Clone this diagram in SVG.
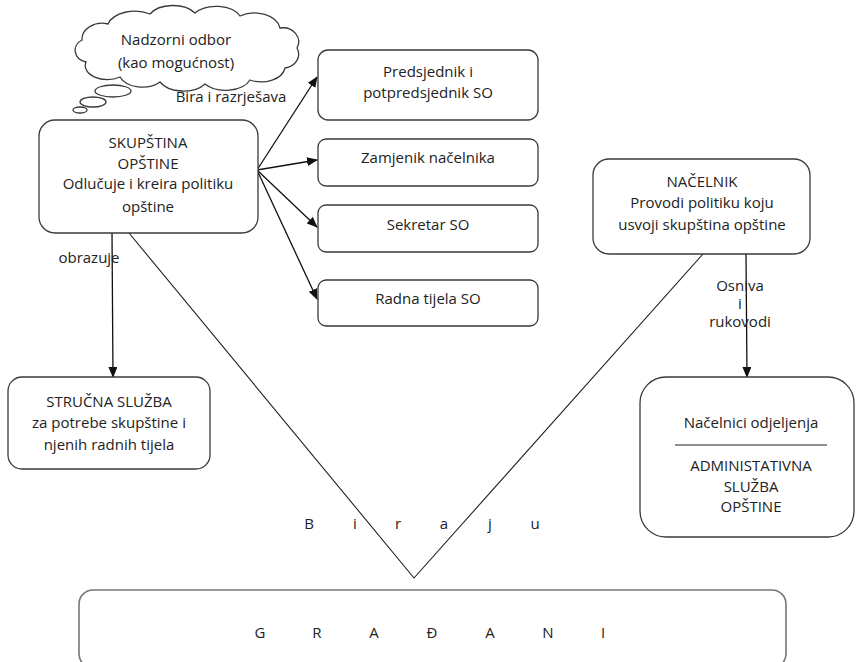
<svg xmlns="http://www.w3.org/2000/svg" width="856" height="662" viewBox="0 0 856 662">
  <style>
    .box { fill: #fff; stroke: #3a3a3a; stroke-width: 1.3; }
    .lbl { font-family: "Open Sans", "Liberation Sans", Arial, sans-serif; font-size: 15px; fill: #222; text-anchor: middle; }
    .wire { fill: none; stroke: #111; stroke-width: 1.3; }
    .plain { fill: none; stroke: #222; stroke-width: 1.1; }
  </style>
  <defs>
    <marker id="head" markerUnits="userSpaceOnUse" markerWidth="11" markerHeight="9" refX="10" refY="4.5" orient="auto">
      <path d="M0,0 L11,4.5 L0,9 z" fill="#111"/>
    </marker>
  </defs>

  <rect width="856" height="662" fill="#fff"/>

  <!-- connectors -->
  <g id="connectors">
    <line class="wire" x1="257" y1="170" x2="317" y2="77" marker-end="url(#head)"/>
    <line class="wire" x1="257" y1="170" x2="317" y2="160" marker-end="url(#head)"/>
    <line class="wire" x1="257" y1="170" x2="317" y2="227" marker-end="url(#head)"/>
    <line class="wire" x1="257" y1="170" x2="317" y2="299" marker-end="url(#head)"/>
    <line class="wire" x1="112" y1="233" x2="113" y2="377" marker-end="url(#head)"/>
    <line class="wire" x1="746" y1="254" x2="747" y2="377" marker-end="url(#head)"/>
    <polyline class="plain" points="129,233 414,578 703,254"/>
    <text class="lbl" x="231" y="102">Bira i razrješava</text>
    <text class="lbl" x="89" y="263">obrazuje</text>
    <text class="lbl" y="291"><tspan x="740">Osniva</tspan><tspan x="740" dy="18">i</tspan><tspan x="740" dy="18">rukovodi</tspan></text>
    <text class="lbl" x="309 355 398 444 490 535" y="529">Biraju</text>
  </g>

  <!-- thought cloud -->
  <g id="nadzorni-odbor">
    <path class="box" d="M86,62 A14,12 0 0 1 82,40 A20,16 0 0 1 108,24 A28,18 0 0 1 150,14 A26,16 0 0 1 195,13 A26,16 0 0 1 240,16 A26,18 0 0 1 280,28 A16,14 0 0 1 297,48 A16,14 0 0 1 285,68 A24,16 0 0 1 250,80 A26,16 0 0 1 205,84 A26,16 0 0 1 160,82 A24,16 0 0 1 120,77 A22,14 0 0 1 86,62 z"/>
    <ellipse class="box" cx="113" cy="91" rx="18" ry="6"/>
    <ellipse class="box" cx="93" cy="102" rx="13" ry="5"/>
    <ellipse class="box" cx="80" cy="110" rx="7" ry="3"/>
    <text class="lbl" x="176" y="45">Nadzorni odbor</text>
    <text class="lbl" x="176" y="68">(kao mogućnost)</text>
  </g>

  <g id="skupstina">
    <rect class="box" x="39" y="120" width="219" height="113" rx="16"/>
    <text class="lbl" x="148" y="148">SKUPŠTINA</text>
    <text class="lbl" x="148" y="169">OPŠTINE</text>
    <text class="lbl" x="148" y="189">Odlučuje i kreira politiku</text>
    <text class="lbl" x="148" y="212">opštine</text>
  </g>

  <g id="predsjednik">
    <rect class="box" x="318" y="50" width="220" height="70" rx="10"/>
    <text class="lbl" x="428" y="77">Predsjednik i</text>
    <text class="lbl" x="428" y="98">potpredsjednik SO</text>
  </g>

  <g id="zamjenik">
    <rect class="box" x="318" y="139" width="220" height="47" rx="8"/>
    <text class="lbl" x="428" y="163">Zamjenik načelnika</text>
  </g>

  <g id="sekretar">
    <rect class="box" x="318" y="205" width="220" height="47" rx="8"/>
    <text class="lbl" x="428" y="230">Sekretar SO</text>
  </g>

  <g id="radna-tijela">
    <rect class="box" x="318" y="280" width="220" height="46" rx="8"/>
    <text class="lbl" x="428" y="304">Radna tijela SO</text>
  </g>

  <g id="nacelnik">
    <rect class="box" x="593" y="159" width="217" height="95" rx="16"/>
    <text class="lbl" x="702" y="187">NAČELNIK</text>
    <text class="lbl" x="702" y="208">Provodi politiku koju</text>
    <text class="lbl" x="702" y="230">usvoji skupština opštine</text>
  </g>

  <g id="strucna-sluzba">
    <rect class="box" x="8" y="377" width="202" height="92" rx="14"/>
    <text class="lbl" x="109" y="407">STRUČNA SLUŽBA</text>
    <text class="lbl" x="109" y="428">za potrebe skupštine i</text>
    <text class="lbl" x="109" y="450">njenih radnih tijela</text>
  </g>

  <g id="administrativna-sluzba">
    <rect class="box" x="640" y="377" width="214" height="160" rx="26"/>
    <text class="lbl" x="751" y="428">Načelnici odjeljenja</text>
    <line x1="675" y1="445" x2="827" y2="445" stroke="#222" stroke-width="1.1"/>
    <text class="lbl" x="751" y="471">ADMINISTATIVNA</text>
    <text class="lbl" x="751" y="492">SLUŽBA</text>
    <text class="lbl" x="751" y="512">OPŠTINE</text>
  </g>

  <g id="gradani">
    <rect x="79" y="590" width="707" height="78" rx="14" fill="#fff" stroke="#777" stroke-width="1.6"/>
    <text class="lbl" x="260 317 374 432 490 548 603" y="638">GRAĐANI</text>
  </g>
</svg>
